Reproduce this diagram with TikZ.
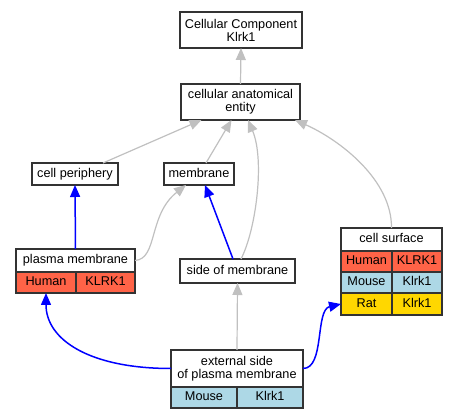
\documentclass[tikz,border=0pt]{standalone}
\usepackage{fontspec}
\setmainfont{Liberation Sans}
\usetikzlibrary{arrows.meta,calc}
\definecolor{human}{HTML}{FF6347}
\definecolor{mouse}{HTML}{ADD8E6}
\definecolor{rat}{HTML}{FFD700}
\definecolor{edgegray}{HTML}{C0C0C0}
\definecolor{boxline}{HTML}{333333}
\begin{document}
\begin{tikzpicture}[x=1pt,y=-1pt,
  font=\fontsize{12.7}{13}\selectfont,
  box/.style={draw=boxline, line width=1.4pt, fill=white, inner sep=0pt, outer sep=0pt, anchor=center, align=center},
  box1/.style={box, text height=9.2pt, text depth=2.7pt},
  grayedge/.style={draw=edgegray, line width=1.2pt, -{Triangle[length=12pt,width=10pt]}},
  blueedge/.style={draw=blue, line width=1.5pt, -{Triangle[length=12pt,width=10pt]}}
]
\useasboundingbox (0,0) rectangle (456,419);
% nodes
\node[box, minimum width=122pt, minimum height=36pt] (top) at (241,30) {Cellular Component\\Klrk1};
\node[box, minimum width=119pt, minimum height=36pt] (cae) at (240.5,102) {cellular anatomical\\entity};
\node[box1, minimum width=86pt, minimum height=22pt] (cp) at (75,174) {cell periphery};
\node[box1, minimum width=70pt, minimum height=22pt] (mem) at (199,174) {membrane};
% plasma membrane
\node[box1, minimum width=119pt, minimum height=23pt] (pm) at (75.5,260.5) {plasma membrane};
\node[box1, fill=human, minimum width=60pt, minimum height=21pt] (pmh) at (46,282.5) {Human};
\node[box1, fill=human, minimum width=59pt, minimum height=21pt] (pmhg) at (105.5,282.5) {KLRK1};
% side of membrane
\node[box1, minimum width=115pt, minimum height=24pt] (som) at (237.5,271) {side of membrane};
% cell surface
\node[box1, minimum width=101pt, minimum height=23pt] (cs) at (391.5,239.5) {cell surface};
\node[box1, fill=human, minimum width=51pt, minimum height=21pt] (csh) at (366.5,261.5) {Human};
\node[box1, fill=human, minimum width=50pt, minimum height=21pt] (cshg) at (417,261.5) {KLRK1};
\node[box1, fill=mouse, minimum width=51pt, minimum height=21pt] (csm) at (366.5,282.5) {Mouse};
\node[box1, fill=mouse, minimum width=50pt, minimum height=21pt] (csmg) at (417,282.5) {Klrk1};
\node[box1, fill=rat, minimum width=51pt, minimum height=22pt] (csr) at (366.5,304) {Rat};
\node[box1, fill=rat, minimum width=50pt, minimum height=22pt] (csrg) at (417,304) {Klrk1};
% external side
\node[box, minimum width=132pt, minimum height=37pt] (ext) at (237,368.5) {external side\\of plasma membrane};
\node[box1, fill=mouse, minimum width=66pt, minimum height=21pt] (extm) at (204,397.5) {Mouse};
\node[box1, fill=mouse, minimum width=66pt, minimum height=21pt] (extmg) at (270,397.5) {Klrk1};
% edges
\draw[grayedge] (cae.north) -- (top.south);
\draw[grayedge] ($(cp.north)+(28,0)$) -- ($(cae.south)+(-39,0)$);
\draw[grayedge] ($(mem.north)+(7,0)$) -- ($(cae.south)+(-9,0)$);
\draw[grayedge] ($(som.north)+(3.5,0)$) .. controls (256,230) and (265,160) .. ($(cae.south)+(7.5,0)$);
\draw[grayedge] (cs.north) .. controls (392,180) and (340,140) .. ($(cae.south)+(54.5,0)$);
\draw[grayedge] (pm.east) .. controls (158,259) and (148,215) .. ($(mem.south)+(-13,0)$);
\draw[blueedge] (pm.north) -- (cp.south);
\draw[blueedge] ($(som.north)+(-4.5,0)$) -- ($(mem.south)+(6,0)$);
\draw[grayedge] (ext.north) -- (som.south);
\draw[blueedge] (ext.west) .. controls (90,368.5) and (46,340) .. (pmh.south);
\draw[blueedge] (ext.east) .. controls (325,368.5) and (315,310) .. (csr.west);
\end{tikzpicture}
\end{document}
